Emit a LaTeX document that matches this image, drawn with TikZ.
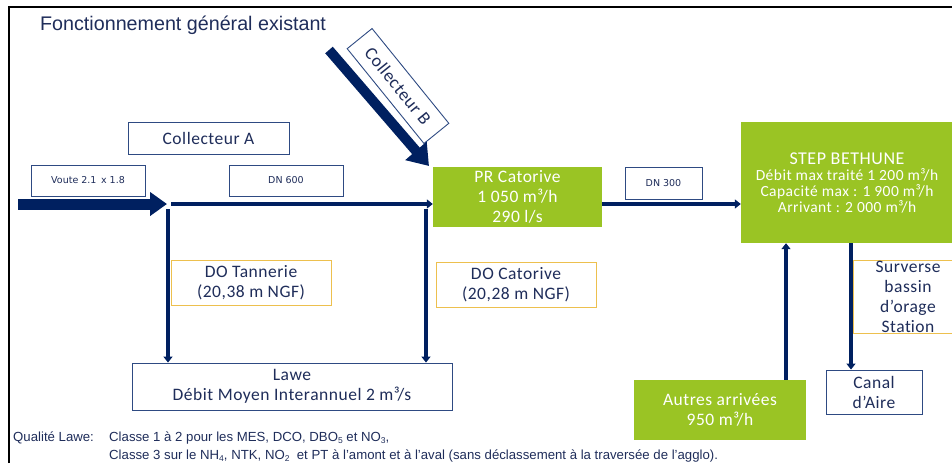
\documentclass[tikz,border=0pt]{standalone}
\usepackage{fontspec}
\setmainfont{Carlito}[LetterSpace=3]
\newfontfamily\arial{Liberation Sans}
\newfontfamily\smallsans{DejaVu Sans}
\usetikzlibrary{arrows.meta}
\definecolor{navy}{HTML}{002060}
\definecolor{txtnavy}{HTML}{1F2D5A}
\definecolor{boxline}{HTML}{2E4A82}
\definecolor{stepgreen}{HTML}{9AC424}
\definecolor{gold}{HTML}{EDC04E}
\newcommand{\subsc}[1]{\raisebox{-0.3ex}{\fontsize{8.5}{9}\selectfont #1}}
\tikzset{
  bluebox/.style={draw=boxline, line width=0.9pt, fill=white, text=txtnavy, align=center, inner sep=0pt, font=\fontsize{17.5}{20}\selectfont},
  smallbox/.style={bluebox, font=\smallsans\fontsize{9.5}{12}\selectfont},
  goldbox/.style={draw=gold, line width=0.9pt, fill=white, text=txtnavy, align=center, inner sep=0pt, font=\fontsize{17.5}{20}\selectfont},
  greenbox/.style={fill=stepgreen, text=white, align=center, inner sep=0pt, font=\fontsize{17.5}{20}\selectfont},
  pipe/.style={draw=navy, line width=3.6pt, -{Triangle[length=6pt,width=9pt]}},
  bigpipe/.style={draw=navy, line width=11pt, -{Triangle[length=17pt,width=23pt]}},
  bodytext/.style={anchor=base west, inner sep=0pt, text=txtnavy, font=\arial\fontsize{13.2}{15}\selectfont},
}
\begin{document}
\begin{tikzpicture}[x=1pt,y=-1pt]
\useasboundingbox (0,0) rectangle (952,463);
% frame
\draw[black, line width=1.8pt] (9,463) -- (9,7) -- (960,7);
% title
\node[anchor=west, text=txtnavy, font=\arial\fontsize{19.7}{22}\selectfont, inner sep=0pt] (title) at (40,25) {Fonctionnement général existant};
% boxes
\node[bluebox, minimum width=161pt, minimum height=32pt] (collA) at (208.5,138) {Collecteur A};
\node[smallbox, minimum width=114pt, minimum height=31pt] (voute) at (88,180.5) {Voute 2.1\, x 1.8};
\node[smallbox, minimum width=114pt, minimum height=31pt] (dn600) at (286,180.5) {DN 600};
\node[greenbox, minimum width=169pt, minimum height=60pt] (pr) at (517.5,197) {PR Catorive\\1 050 m³/h\\290 l/s};
\node[smallbox, minimum width=77pt, minimum height=32pt] (dn300) at (663.5,183) {DN 300};
\node[greenbox, minimum width=212pt, minimum height=121pt] (step) at (847,182.5) {};
\node[text=white, align=center, inner sep=0pt, font=\fontsize{18}{20}\selectfont] (steptitle) at (847,159) {STEP BETHUNE};
\node[text=white, align=center, inner sep=0pt, font=\fontsize{15.5}{16}\selectfont] (steptext) at (847,191) {Débit max traité 1 200 m³/h\\Capacité max : 1 900 m³/h\\Arrivant : 2 000 m³/h};
\node[goldbox, minimum width=110pt, minimum height=73pt] (surv) at (908,296.5) {Surverse\\bassin\\d’orage\\Stat\kern0pt ion};
\node[bluebox, minimum width=96pt, minimum height=44pt] (canal) at (874,392) {Canal\\d’Aire};
\node[greenbox, minimum width=172pt, minimum height=60pt] (autres) at (720,410) {Autres arrivées\\950 m³/h};
\node[goldbox, minimum width=160pt, minimum height=45pt] (doT) at (251,283) {DO Tannerie\\(20,38 m NGF)};
\node[goldbox, minimum width=160pt, minimum height=45pt] (doC) at (516,285) {DO Catorive\\(20,28 m NGF)};
\node[bluebox, minimum width=320pt, minimum height=47pt] (lawe) at (292,386.5) {Lawe\\Débit Moyen Interannuel 2 m³/s};
% collecteur B
\node[bluebox, minimum width=122pt, minimum height=32pt, rotate=-51, font=\fontsize{18}{20}\selectfont] (collB) at (398,86) {Collecteur B};
\coordinate (cbstart) at (329,50);
\coordinate (cbend) at (429,166);
\draw[bigpipe, line width=10pt, -{Triangle[length=20pt,width=27pt]}] (cbstart) -- (cbend);
% main flow
\coordinate (start) at (18,204);
\coordinate (j1) at (167,204);
\coordinate (j1b) at (171,204);
\coordinate (jA) at (168,209);
\coordinate (jB) at (426,209);
\draw[bigpipe] (start) -- (j1);
\draw[pipe] (j1b) -- (pr.west |- j1b);
\draw[pipe] (jA) -- (jA |- lawe.north);
\draw[pipe] (jB) -- (jB |- lawe.north);
\draw[pipe] (pr.east |- j1) -- (step.west |- j1);
\coordinate (up) at (786,0);
\draw[pipe] (up |- autres.north) -- (up |- step.south);
\coordinate (down) at (851,0);
\draw[pipe] (down |- step.south) -- (down |- canal.north);
% bottom text
\node[bodytext] (ql) at (13,441) {Qualité Lawe:};
\node[bodytext] (l1) at (109,441) {Classe 1 à 2 pour les MES, DCO, DBO\subsc{5} et NO\subsc{3},};
\node[bodytext] (l2) at (109,459) {Classe 3 sur le NH\subsc{4}, NTK, NO\subsc{2} \ et PT à l’amont et à l’aval (sans déclassement à la traversée de l’agglo).};
\end{tikzpicture}
\end{document}
